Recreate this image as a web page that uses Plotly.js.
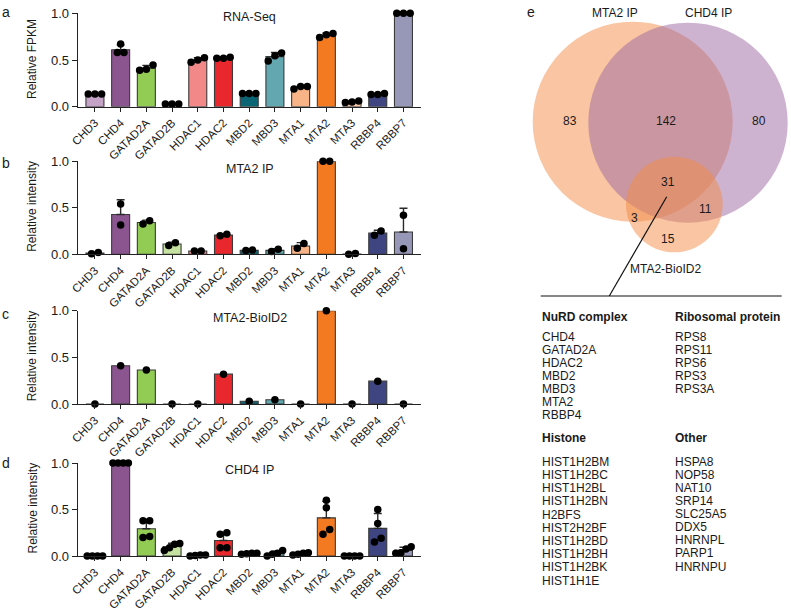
<!DOCTYPE html>
<html><head><meta charset="utf-8">
<script src="https://cdn.plot.ly/plotly-3.0.1.min.js"></script>
<style>html,body{margin:0;padding:0;background:#fff}#chart{width:791px;height:611px}</style>
</head><body><div id="chart"></div>
<script>
// ---------- DATA ----------
const categories = ['CHD3','CHD4','GATAD2A','GATAD2B','HDAC1','HDAC2','MBD2','MBD3','MTA1','MTA2','MTA3','RBBP4','RBBP7'];
const barColors = ['#c4a3c6','#8b5590','#92cc55','#c5e2a0','#f28888','#e8282c','#0b6574','#63a7b0','#f8b487','#f47a22','#f9c9a8','#3e4580','#9797b8'];
const yTickVals = [0, 0.5, 1.0];
const yTickText = ['0.0','0.5','1.0'];

const rnaSeq = [
  [0.135,0.135,0.135],[0.58,0.67,0.58],[0.39,0.447,0.40],[0.03,0.03,0.03],
  [0.475,0.525,0.50],[0.52,0.53,0.52],[0.14,0.14,0.14],[0.575,0.49,0.545],
  [0.19,0.215,0.215],[0.74,0.785,0.77],[0.045,0.06,0.05],[0.13,0.14,0.13],[1.0,1.0,1.0]
];
const mta2IP = [
  [0.005,0.02],[0.54,0.315],[0.325,0.36],[0.095,0.125],[0.035,0.035],[0.2,0.215],
  [0.04,0.045],[0.03,0.055],[0.065,0.115],[1.0,1.0],[0.0,0.008],[0.205,0.25],[0.42,0.06]
];
const mta2BioID2 = [0,0.41,0.365,0,0,0.32,0.03,0.045,0,1.0,0,0.245,0];
const chd4IP = [
  [0,0,0,0],[1,1,1,1],[0.38,0.38,0.2,0.21],[0.135,0.125,0.09,0.06],[0,0.01,0.005,0.01],
  [0.235,0.25,0.09,0.09],[0.025,0.03,0.03,0.02],[0.0,0.06,0.03,0.02],[0.01,0.035,0.03,0.02],
  [0.6,0.52,0.235,0.285],[0,0,0,0],[0.5,0.35,0.19,0.15],[0.1,0.075,0.035,0.03]
];
const panelTitles = ['RNA-Seq','MTA2 IP','MTA2-BioID2','CHD4 IP'];
const panelYTitles = ['Relative FPKM','Relative intensity','Relative intensity','Relative intensity'];
const panelLetters = ['a','b','c','d'];

const vennSetNames = ['MTA2 IP','CHD4 IP','MTA2-BioID2'];
const vennRegions = ['MTA2 only','MTA2&CHD4','CHD4 only','all','MTA2&BioID2','CHD4&BioID2','BioID2 only'];
const vennCounts = [83,142,80,31,3,11,15];

const nurdComplex = ['CHD4','GATAD2A','HDAC2','MBD2','MBD3','MTA2','RBBP4'];
const ribosomalProtein = ['RPS8','RPS11','RPS6','RPS3','RPS3A'];
const histone = ['HIST1H2BM','HIST1H2BC','HIST1H2BL','HIST1H2BN','H2BFS','HIST2H2BF','HIST1H2BD','HIST1H2BH','HIST1H2BK','HIST1H1E'];
const otherProteins = ['HSPA8','NOP58','NAT10','SRP14','SLC25A5','DDX5','HNRNPL','PARP1','HNRNPU'];

// ---------- LAYOUT HELPERS ----------
const W = 791, H = 611;
const FONT = 'Liberation Sans, Arial, Helvetica, sans-serif';
const px = x => x / W;
const py = y => 1 - y / H;

const xPix = [77.7, 420.7];
const panelPix = [[106.7, 13.3],[254.3,161.3],[404,310.7],[556,463]]; // [zero, one]
const titleY = [17, 169, 318, 470];
const letterY = [11.5, 162.5, 314, 463];

function mean(a){ return a.reduce((s,v)=>s+v,0)/a.length; }
function sd(a){ if(a.length<2) return 0; const m=mean(a); return Math.sqrt(a.reduce((s,v)=>s+(v-m)*(v-m),0)/(a.length-1)); }
function jitter(vals){
  const idx = vals.map((v,i)=>i).sort((a,b)=>vals[a]-vals[b]);
  const off = new Array(vals.length).fill(0);
  let clusters=[], cur=[idx[0]];
  for(let k=1;k<idx.length;k++){
    if(vals[idx[k]]-vals[idx[k-1]]<0.06) cur.push(idx[k]); else {clusters.push(cur); cur=[idx[k]];}
  }
  clusters.push(cur);
  clusters.forEach(c=>{
    const n=c.length; if(n<2) return;
    const step=Math.min(0.26, 0.6/(n-1));
    c.forEach((i,j)=>{ off[i]=(j-(n-1)/2)*step; });
  });
  return off;
}

const datasets = [rnaSeq, mta2IP, mta2BioID2.map(v=>[v]), chd4IP];
const traces = [];
const layout = {
  width: W, height: H, margin:{l:0,r:0,t:0,b:0,pad:0},
  paper_bgcolor:'#fff', plot_bgcolor:'rgba(0,0,0,0)', showlegend:false,
  font:{family:FONT, size:12, color:'#1a1a1a'},
  annotations:[], shapes:[]
};

datasets.forEach((ds,p)=>{
  const sfx = p===0 ? '' : String(p+1);
  const xa = 'x'+sfx, ya = 'y'+sfx;
  const xs = categories.map((c,i)=>i);
  const means = ds.map(mean);
  const sds = ds.map(sd);
  const hasErr = ds[0].length>1;
  traces.push({
    type:'bar', x:xs, y:means, xaxis:xa, yaxis:ya, width:0.7,
    marker:{color:barColors, line:{color:'#3a3a3a', width:1.1}},
    error_y: hasErr ? {type:'data', symmetric:false, array:sds, arrayminus:sds.map(()=>0),
      color:'#2a2a2a', thickness:1.4, width:4} : {visible:false},
    hoverinfo:'skip', cliponaxis:false
  });
  const dx=[], dy=[];
  ds.forEach((vals,i)=>{ const o=jitter(vals); vals.forEach((v,k)=>{dx.push(i+o[k]); dy.push(v);}); });
  traces.push({
    type:'scatter', mode:'markers', x:dx, y:dy, xaxis:xa, yaxis:ya,
    marker:{color:'#000', size:7.5}, cliponaxis:false, hoverinfo:'skip'
  });
  layout['xaxis'+sfx] = {
    domain:[px(xPix[0]), px(xPix[1])], anchor:ya, range:[-0.67,12.67],
    tickmode:'array', tickvals:xs, ticktext:categories, tickangle:-45,
    ticks:'outside', ticklen:4, tickwidth:1, tickcolor:'#222',
    showline:true, linecolor:'#222', linewidth:1, showgrid:false, zeroline:false,
    tickfont:{family:FONT, size:11.5, color:'#1a1a1a'}, fixedrange:true
  };
  layout['yaxis'+sfx] = {
    domain:[py(panelPix[p][0]), py(panelPix[p][1])], anchor:xa, range:[0,1],
    tickmode:'array', tickvals:yTickVals, ticktext:yTickText,
    ticks:'outside', ticklen:5, tickwidth:1, tickcolor:'#222',
    showline:true, linecolor:'#222', linewidth:1, showgrid:false, zeroline:false,
    tickfont:{family:FONT, size:13, color:'#1a1a1a'}, fixedrange:true
  };
  layout.annotations.push({xref:'paper',yref:'paper',x:px(249.5),y:py(titleY[p]),text:panelTitles[p],
    showarrow:false,xanchor:'center',yanchor:'middle',font:{size:12.5}});
  layout.annotations.push({xref:'paper',yref:'paper',x:px(32),y:py((panelPix[p][0]+panelPix[p][1])/2 - 1),
    text:panelYTitles[p],textangle:-90,showarrow:false,xanchor:'center',yanchor:'middle',font:{size:12}});
  layout.annotations.push({xref:'paper',yref:'paper',x:px(5.5),y:py(letterY[p]),text:panelLetters[p],
    showarrow:false,xanchor:'center',yanchor:'middle',font:{size:14}});
});

// ---------- VENN ----------
const vennCircles = [
  {x0:532.7,x1:732.7,y0:21.7,y1:221.7,c:'rgb(243,139,69)'},
  {x0:588.3,x1:787.7,y0:22.7,y1:222.7,c:'rgb(155,103,161)'},
  {x0:626,x1:722.7,y0:156.7,y1:252.3,c:'rgb(243,139,69)'}
];
vennCircles.forEach(o=>layout.shapes.push({type:'circle',xref:'paper',yref:'paper',
  x0:px(o.x0),x1:px(o.x1),y0:py(o.y1),y1:py(o.y0),fillcolor:o.c,opacity:0.5,line:{width:0},layer:'above'}));
layout.shapes.push({type:'line',xref:'paper',yref:'paper',x0:px(666.7),y0:py(196.7),x1:px(609.3),y1:py(296),line:{color:'#111',width:1.2}});
layout.shapes.push({type:'line',xref:'paper',yref:'paper',x0:px(540.7),y0:py(296),x1:px(781.7),y1:py(296),line:{color:'#111',width:1.2}});

const vennSetPos = [[615,13.3],[708.3,13.3],[665,268.7]];
vennSetNames.forEach((t,i)=>layout.annotations.push({xref:'paper',yref:'paper',x:px(vennSetPos[i][0]),y:py(vennSetPos[i][1]),
  text:t,showarrow:false,xanchor:'center',yanchor:'middle',font:{size:12}}));
const vennCountPos = [[570,120.7],[665.7,121],[759.3,120.7],[668.3,181.7],[634,218],[705.3,208.7],[667.7,238.7]];
vennCounts.forEach((v,i)=>layout.annotations.push({xref:'paper',yref:'paper',x:px(vennCountPos[i][0]),y:py(vennCountPos[i][1]),
  text:String(v),showarrow:false,xanchor:'center',yanchor:'middle',font:{size:12}}));
layout.annotations.push({xref:'paper',yref:'paper',x:px(531),y:py(11.5),text:'e',showarrow:false,xanchor:'center',yanchor:'middle',font:{size:14}});

// ---------- LISTS ----------
const groups = [
  {title:'NuRD complex', items:nurdComplex, x:540.7, ty:316.7, y0:336.7, step:13.05},
  {title:'Ribosomal protein', items:ribosomalProtein, x:674.3, ty:316.7, y0:336.7, step:13.05},
  {title:'Histone', items:histone, x:540.7, ty:438.3, y0:461.7, step:13.2},
  {title:'Other', items:otherProteins, x:674.3, ty:438.3, y0:461.7, step:13.1}
];
groups.forEach(g=>{
  layout.annotations.push({xref:'paper',yref:'paper',x:px(g.x-1),y:py(g.ty),text:'<b>'+g.title+'</b>',
    showarrow:false,xanchor:'left',yanchor:'middle',font:{size:12}});
  g.items.forEach((t,k)=>layout.annotations.push({xref:'paper',yref:'paper',x:px(g.x-1),y:py(g.y0+k*g.step),text:t,
    showarrow:false,xanchor:'left',yanchor:'middle',font:{size:12}}));
});

Plotly.newPlot('chart', traces, layout, {staticPlot:true, displayModeBar:false});
</script></body></html>
